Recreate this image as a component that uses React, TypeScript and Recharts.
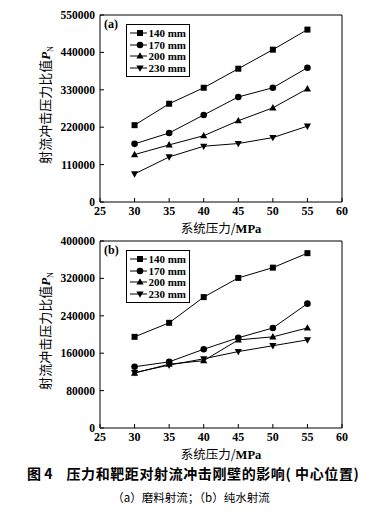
import React from 'react';
import { LineChart, Line, XAxis, YAxis, ReferenceLine } from 'recharts';

const pressure = [30, 35, 40, 45, 50, 55];
const xTicks = [25, 30, 35, 40, 45, 50, 55, 60];
const distances = ['140 mm', '170 mm', '200 mm', '230 mm'];

const abrasive140 = [226000, 289000, 336000, 392000, 448000, 507000];
const abrasive170 = [171000, 203000, 256000, 309000, 336000, 395000];
const abrasive200 = [139500, 168000, 195000, 239000, 277000, 333000];
const abrasive230 = [82500, 132500, 164000, 172000, 189500, 223000];
const aTicks = [0, 110000, 220000, 330000, 440000, 550000];

const water140 = [195000, 225000, 280000, 321000, 343000, 374000];
const water170 = [131000, 141500, 168500, 193000, 214000, 266000];
const water200 = [117500, 136500, 144000, 188500, 195000, 214000];
const water230 = [118500, 134500, 148000, 163500, 176000, 188500];
const bTicks = [0, 80000, 160000, 240000, 320000, 400000];

const shapes = ['square', 'circle', 'up', 'down'];
const serif = '"Liberation Serif", "Times New Roman", serif';
const cjk = '"Noto Sans CJK SC", sans-serif';

function buildRows(series: number[][]) {
  return pressure.map((p, i) => ({
    p,
    s0: series[0][i],
    s1: series[1][i],
    s2: series[2][i],
    s3: series[3][i],
  }));
}

function Marker({ shape, cx, cy }: { shape: string; cx: number; cy: number }) {
  if (shape === 'square') return <rect x={cx - 3} y={cy - 3} width={6} height={6} fill="#000" />;
  if (shape === 'circle') return <circle cx={cx} cy={cy} r={3.3} fill="#000" />;
  if (shape === 'up')
    return <polygon points={`${cx},${cy - 3.8} ${cx - 3.6},${cy + 2.6} ${cx + 3.6},${cy + 2.6}`} fill="#000" />;
  return <polygon points={`${cx},${cy + 3.8} ${cx - 3.6},${cy - 2.6} ${cx + 3.6},${cy - 2.6}`} fill="#000" />;
}

const XTick = (props: any) => {
  const { x, y, payload } = props;
  const ay = y - 4;
  return (
    <g>
      <line x1={x} y1={ay} x2={x} y2={ay - 4} stroke="#000" strokeWidth={1} />
      <text x={x} y={y} dy="0.74em" textAnchor="middle" fontFamily={serif} fontWeight="bold" fontSize={12} fill="#000">
        {payload.value}
      </text>
    </g>
  );
};

const YTick = (props: any) => {
  const { x, y, payload } = props;
  const ax = x + 5;
  return (
    <g>
      <line x1={ax} y1={y} x2={ax + 4} y2={y} stroke="#000" strokeWidth={1} />
      <text x={x} y={y} dy="0.35em" textAnchor="end" fontFamily={serif} fontWeight="bold" fontSize={11.5} fill="#000">
        {payload.value}
      </text>
    </g>
  );
};

const LegendBox = () => (
  <div
    style={{
      border: '1px solid #000',
      background: '#fff',
      padding: '2px 3px 2px 3px',
      width: 56,
    }}
  >
    {distances.map((d, i) => (
      <div key={d} style={{ display: 'flex', alignItems: 'center', height: 11.7 }}>
        <svg width={20} height={10}>
          <line x1={0} y1={5} x2={20} y2={5} stroke="#000" strokeWidth={1} />
          <Marker shape={shapes[i]} cx={10} cy={5} />
        </svg>
        <span style={{ fontFamily: serif, fontWeight: 'bold', fontSize: 11, marginLeft: 1, whiteSpace: 'nowrap' }}>{d}</span>
      </div>
    ))}
  </div>
);

function Panel({
  top,
  rows,
  yMax,
  yTicks,
  tag,
}: {
  top: number;
  rows: any[];
  yMax: number;
  yTicks: number[];
  tag: string;
}) {
  const h = 235;
  return (
    <div style={{ position: 'absolute', left: 0, top, width: 367, height: h }}>
      <LineChart width={367} height={h} data={rows} margin={{ top: 15, right: 25, left: 0, bottom: 13 }}>
        <XAxis
          dataKey="p"
          type="number"
          domain={[25, 60]}
          ticks={xTicks}
          height={20}
          tickSize={0}
          tickMargin={4}
          tickLine={false}
          axisLine={{ stroke: '#000', strokeWidth: 1 }}
          tick={<XTick />}
          interval={0}
        />
        <YAxis
          type="number"
          domain={[0, yMax]}
          ticks={yTicks}
          width={100}
          tickSize={0}
          tickMargin={5}
          tickLine={false}
          axisLine={{ stroke: '#000', strokeWidth: 1 }}
          tick={<YTick />}
          interval={0}
        />
        <ReferenceLine y={yMax} stroke="#000" strokeWidth={1} />
        <ReferenceLine x={60} stroke="#000" strokeWidth={1} />
        {shapes.map((s, i) => (
          <Line
            key={s}
            dataKey={`s${i}`}
            stroke="#000"
            strokeWidth={1}
            isAnimationActive={false}
            dot={(p: any) => <Marker key={`${s}-${p.index}`} shape={s} cx={p.cx} cy={p.cy} />}
          />
        ))}
      </LineChart>
      <div
        style={{
          position: 'absolute',
          left: 104,
          top: 17,
          fontFamily: serif,
          fontWeight: 'bold',
          fontSize: 12,
        }}
      >
        ({tag})
      </div>
      <div style={{ position: 'absolute', left: 126, top: 24 }}>
        <LegendBox />
      </div>
      <div
        style={{
          position: 'absolute',
          left: 221,
          top: 228,
          transform: 'translate(-50%, -50%)',
          fontSize: 12.5,
          lineHeight: '14px',
          fontFamily: cjk,
          whiteSpace: 'nowrap',
        }}
      >
        系统压力/<span style={{ fontFamily: serif, fontWeight: 'bold' }}>MPa</span>
      </div>
      <div
        style={{
          position: 'absolute',
          left: 45,
          top: 105,
          transform: 'translate(-50%, -50%) rotate(-90deg)',
          fontSize: 13,
          fontFamily: cjk,
          whiteSpace: 'nowrap',
        }}
      >
        射流冲击压力比值
        <span style={{ fontFamily: serif, fontStyle: 'italic', fontWeight: 'bold' }}>P</span>
        <sub style={{ fontFamily: serif, fontSize: 8 }}>N</sub>
      </div>
    </div>
  );
}

export default function App() {
  const rowsA = buildRows([abrasive140, abrasive170, abrasive200, abrasive230]);
  const rowsB = buildRows([water140, water170, water200, water230]);
  return (
    <div style={{ position: 'relative', width: 367, height: 518, margin: -8, background: '#fff', overflow: 'hidden' }}>
      <Panel top={0} rows={rowsA} yMax={550000} yTicks={aTicks} tag="a" />
      <Panel top={226} rows={rowsB} yMax={400000} yTicks={bTicks} tag="b" />
      <div
        style={{
          position: 'absolute',
          left: 27,
          top: 465,
          fontFamily: cjk,
          fontWeight: 'bold',
          fontSize: 14,
          lineHeight: '16px',
          whiteSpace: 'nowrap',
        }}
      >
        <span>图 4</span>
        <span style={{ marginLeft: 14, letterSpacing: 0.6 }}>压力和靶距对射流冲击刚壁的影响( 中心位置)</span>
      </div>
      <div
        style={{
          position: 'absolute',
          left: 191,
          top: 497,
          transform: 'translate(-50%, -50%)',
          fontFamily: cjk,
          fontSize: 11.5,
          whiteSpace: 'nowrap',
        }}
      >
        （a）磨料射流；（b）纯水射流
      </div>
    </div>
  );
}
